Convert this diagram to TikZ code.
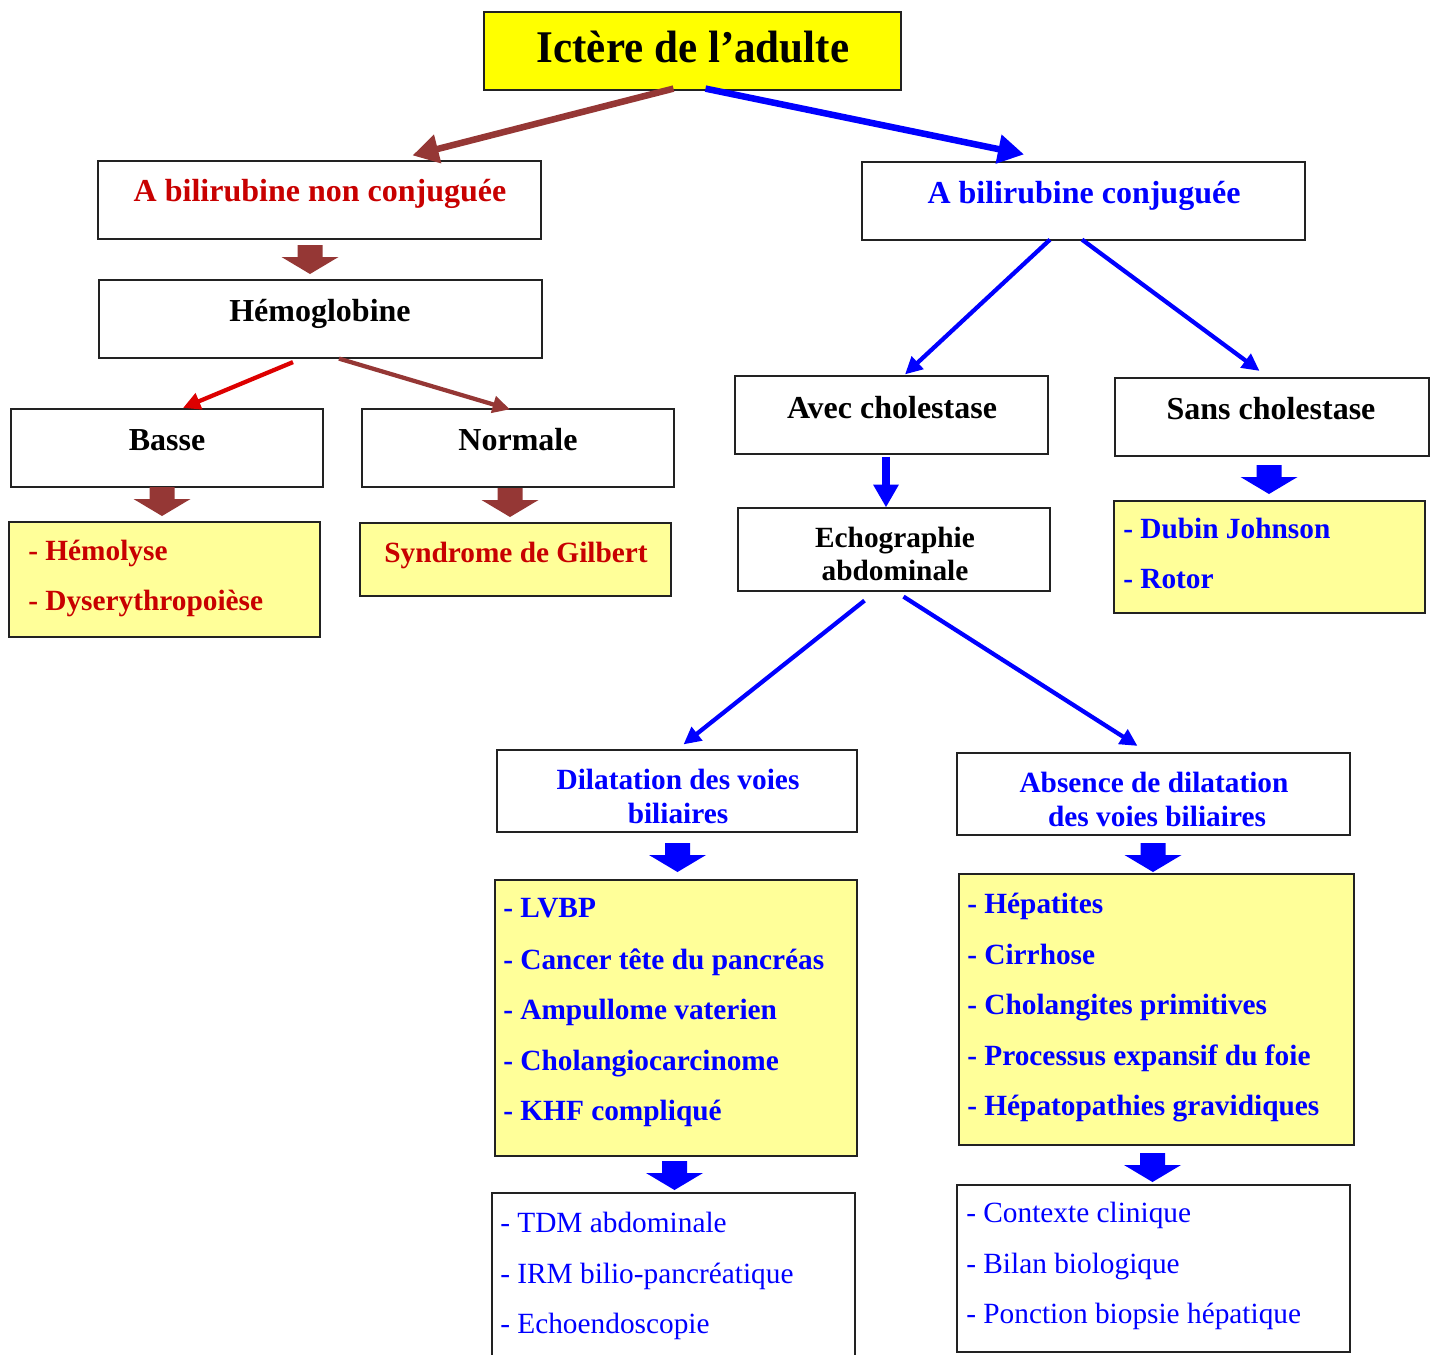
\documentclass[tikz,border=0pt]{standalone}
\usepackage{fontspec}
\setmainfont{Liberation Serif}
\newfontfamily\titlefont[FakeStretch=0.95]{Liberation Serif}
\usetikzlibrary{arrows.meta,calc}
\definecolor{brn}{HTML}{953735}
\definecolor{rtxt}{HTML}{C80000}
\definecolor{rarr}{HTML}{DD0000}
\definecolor{bl}{HTML}{0000FF}
\definecolor{yel}{HTML}{FFFF00}
\definecolor{lyel}{HTML}{FFFF99}
\definecolor{edge}{HTML}{222222}
\begin{document}
\begin{tikzpicture}[x=0.75pt,y=-0.75pt,
  box/.style 2 args={draw=edge, line width=0.9pt, minimum width=#1*0.75pt, minimum height=#2*0.75pt, inner sep=0pt},
  lbl/.style={anchor=base, inner sep=0pt, font=\fontsize{24}{28}\selectfont\bfseries},
  itm/.style={anchor=base west, inner sep=0pt, font=\fontsize{22}{26}\selectfont\bfseries},
  itr/.style={anchor=base west, inner sep=0pt, font=\fontsize{22}{26}\selectfont},
  bigarrow/.style={line width=4.9pt, -{Triangle[length=19.5pt,width=21pt]}},
  midarrow/.style={line width=3.2pt, -{Triangle[length=13pt,width=12.5pt]}},
  fatarrow/.style={line width=6pt, -{Triangle[length=17pt,width=18pt]}},
  blockarrow/.pic={\fill[#1] (-12.5,0) -- (12.5,0) -- (12.5,12) -- (28.5,12) -- (0,29) -- (-28.5,12) -- (-12.5,12) -- cycle;}
]
\useasboundingbox (0,0) rectangle (1436,1354);
\clip (0,0) rectangle (1436,1354);

% boxes
\node[box={417}{78}, fill=yel] (title) at (692.5,51) {};
\node[box={443}{78}] (nc) at (319.5,200) {};
\node[box={443}{78}] (cj) at (1083.5,201) {};
\node[box={443}{78}] (hb) at (320.5,319) {};
\node[box={312}{78}] (basse) at (167,448) {};
\node[box={312}{78}] (normale) at (518,448) {};
\node[box={311}{115}, fill=lyel] (hemol) at (164.5,579.5) {};
\node[box={311}{73}, fill=lyel] (gilbert) at (515.5,559.5) {};
\node[box={313}{78}] (avec) at (891.5,415) {};
\node[box={314}{78}] (sans) at (1272,417) {};
\node[box={312}{83}] (echo) at (894,549.5) {};
\node[box={311}{112}, fill=lyel] (dubin) at (1269.5,557) {};
\node[box={360}{82}] (dil) at (677,791) {};
\node[box={393}{82}] (abs) at (1153.5,794) {};
\node[box={362}{276}, fill=lyel] (lvbp) at (676,1018) {};
\node[box={395}{271}, fill=lyel] (hep) at (1156.5,1009.5) {};
\node[box={363}{206}] (tdm) at (673.5,1296) {};
\node[box={393}{167}] (ctx) at (1153.5,1268.5) {};

% texts
\node[anchor=base, inner sep=0pt, font=\titlefont\fontsize{34}{40}\selectfont\bfseries] (tt) at (693,62) {Ictère de l’adulte};
\node[lbl, text=rtxt] (tnc) at (320,201) {A bilirubine non conjuguée};
\node[lbl, text=bl] (tcj) at (1084,203) {A bilirubine conjuguée};
\node[lbl] (thb) at (320,321) {Hémoglobine};
\node[lbl] (tba) at (167,450) {Basse};
\node[lbl] (tno) at (518,450) {Normale};
\node[itm, text=rtxt] (th1) at (28,560) {- Hémolyse};
\node[itm, text=rtxt] (th2) at (28,610) {- Dyserythropoièse};
\node[lbl, text=rtxt, font=\fontsize{22}{26}\selectfont\bfseries] (tgi) at (516,562) {Syndrome de Gilbert};
\node[lbl] (tav) at (892,418) {Avec cholestase};
\node[lbl] (tsa) at (1271,419) {Sans cholestase};
\node[lbl, font=\fontsize{22}{26}\selectfont\bfseries] (te1) at (895,547) {Echographie};
\node[lbl, font=\fontsize{22}{26}\selectfont\bfseries] (te2) at (895,580) {abdominale};
\node[itm, text=bl] (td1) at (1123,538) {- Dubin Johnson};
\node[itm, text=bl] (td2) at (1123,588) {- Rotor};
\node[lbl, text=bl, font=\fontsize{22}{26}\selectfont\bfseries] (tdi1) at (678,789) {Dilatation des voies};
\node[lbl, text=bl, font=\fontsize{22}{26}\selectfont\bfseries] (tdi2) at (678,823) {biliaires};
\node[lbl, text=bl, font=\fontsize{22}{26}\selectfont\bfseries] (tab1) at (1154,792) {Absence de dilatation};
\node[lbl, text=bl, font=\fontsize{22}{26}\selectfont\bfseries] (tab2) at (1157,826) {des voies biliaires};
\node[itm, text=bl] (tl1) at (503,917) {- LVBP};
\node[itm, text=bl] (tl2) at (503,969) {- Cancer tête du pancréas};
\node[itm, text=bl] (tl3) at (503,1019) {- Ampullome vaterien};
\node[itm, text=bl] (tl4) at (503,1070) {- Cholangiocarcinome};
\node[itm, text=bl] (tl5) at (503,1120) {- KHF compliqué};
\node[itm, text=bl] (tp1) at (967,913) {- Hépatites};
\node[itm, text=bl] (tp2) at (967,964) {- Cirrhose};
\node[itm, text=bl] (tp3) at (967,1014) {- Cholangites primitives};
\node[itm, text=bl] (tp4) at (967,1065) {- Processus expansif du foie};
\node[itm, text=bl] (tp5) at (967,1115) {- Hépatopathies gravidiques};
\node[itr, text=bl] (tt1) at (500,1232) {- TDM abdominale};
\node[itr, text=bl] (tt2) at (500,1283) {- IRM bilio-pancréatique};
\node[itr, text=bl] (tt3) at (500,1333) {- Echoendoscopie};
\node[itr, text=bl] (tc1) at (966,1222) {- Contexte clinique};
\node[itr, text=bl] (tc2) at (966,1273) {- Bilan biologique};
\node[itr, text=bl] (tc3) at (966,1323) {- Ponction biopsie hépatique};

% connectors
\draw[bigarrow, brn] ($(title.south)+(-19,-2)$) -- ($(nc.north)+(93,-5)$);
\draw[bigarrow, bl] ($(title.south)+(13,-2)$) -- ($(cj.north)+(-59.5,-7)$);
\draw[midarrow, rarr] ($(hb.south)+(-27.5,3.5)$) -- ($(basse.north)+(16,-0.5)$);
\draw[midarrow, brn] ($(hb.south)+(18.5,0)$) -- ($(normale.north)+(-8,1)$);
\draw[midarrow, bl] ($(cj.south)+(-33.5,-1)$) -- ($(avec.north)+(13.5,-1)$);
\draw[midarrow, bl] ($(cj.south)+(-1.5,-1)$) -- ($(sans.north)+(-12.5,-6.5)$);
\draw[fatarrow, bl] ($(avec.south)+(-5.5,2)$) -- ($(echo.north)+(-8,0)$);
\draw[midarrow, bl] ($(echo.south)+(-29.5,9)$) -- ($(dil.north)+(6.5,-5)$);
\draw[midarrow, bl] ($(echo.south)+(9.5,5)$) -- ($(abs.north)+(-16,-6.5)$);

% block arrows
\pic at (310,245) {blockarrow=brn};
\pic at (162,487) {blockarrow=brn};
\pic at (510,488) {blockarrow=brn};
\pic at (1269,465) {blockarrow=bl};
\pic at (677.5,843) {blockarrow=bl};
\pic at (1153,843) {blockarrow=bl};
\pic at (674.5,1161) {blockarrow=bl};
\pic at (1152.5,1153) {blockarrow=bl};
\end{tikzpicture}
\end{document}
